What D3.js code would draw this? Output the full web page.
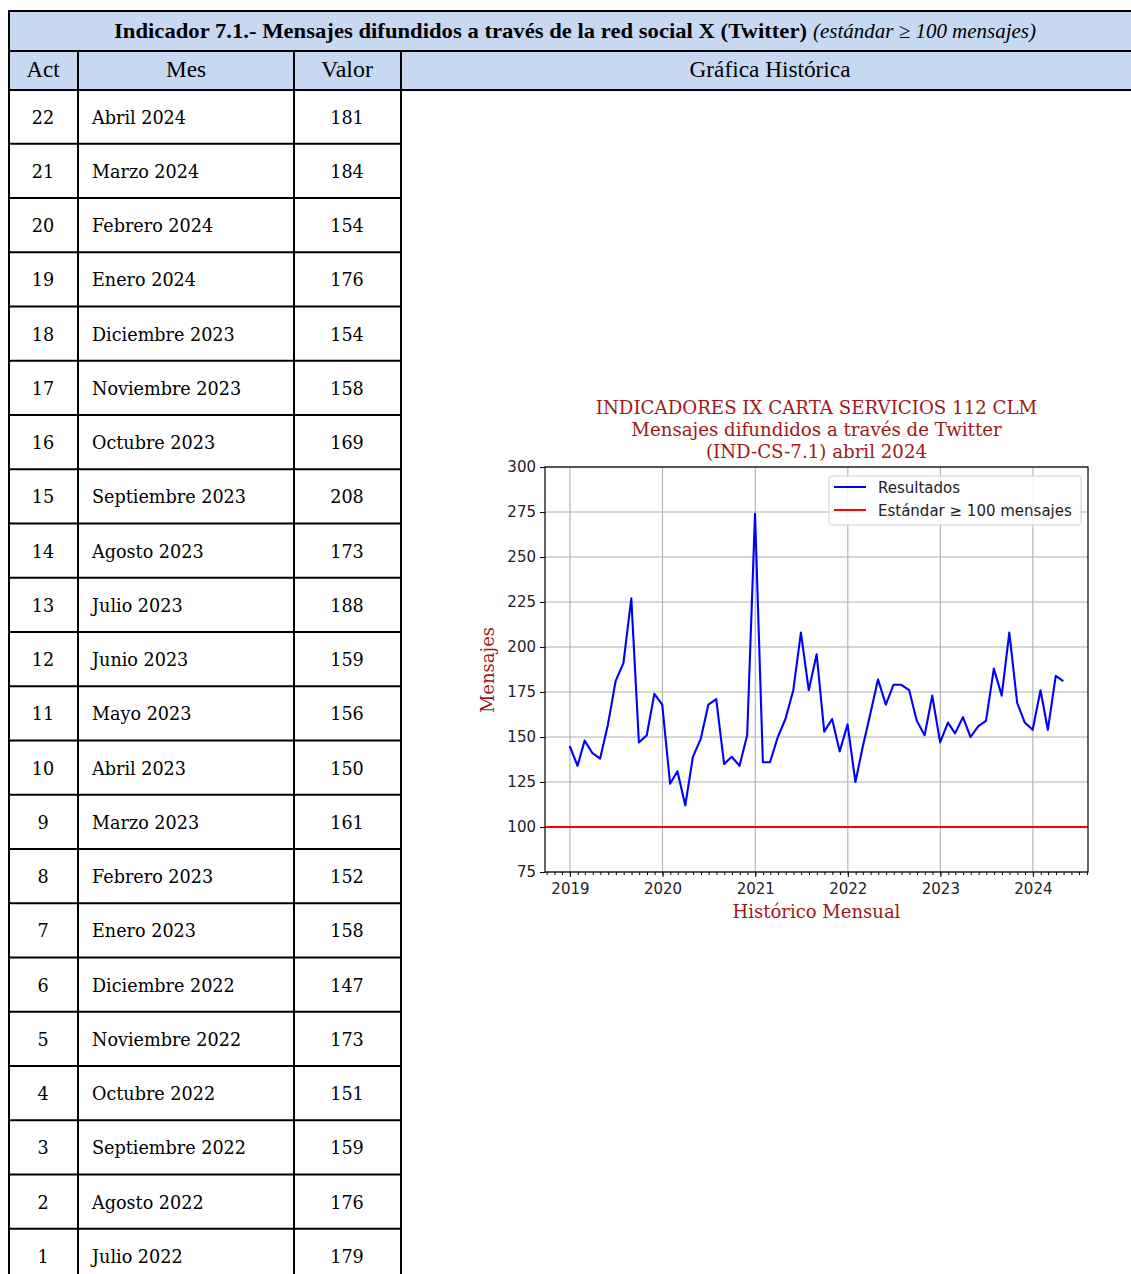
<!DOCTYPE html>
<html>
<head>
<meta charset="utf-8">
<title>Indicador 7.1 - Mensajes X (Twitter)</title>
<script src="https://d3js.org/d3.v7.min.js"></script>
<style>
  body { margin: 0; background: #fff; }
  svg { display: block; }
</style>
</head>
<body>
<div id="page"></div>
<script>
// table data (latest first)
const tableAct = [22, 21, 20, 19, 18, 17, 16, 15, 14, 13, 12, 11, 10, 9, 8, 7, 6, 5, 4, 3, 2, 1];
const tableMonths = ["Abril 2024", "Marzo 2024", "Febrero 2024", "Enero 2024", "Diciembre 2023",
  "Noviembre 2023", "Octubre 2023", "Septiembre 2023", "Agosto 2023", "Julio 2023", "Junio 2023",
  "Mayo 2023", "Abril 2023", "Marzo 2023", "Febrero 2023", "Enero 2023", "Diciembre 2022",
  "Noviembre 2022", "Octubre 2022", "Septiembre 2022", "Agosto 2022", "Julio 2022"];
const tableValues = [181, 184, 154, 176, 154, 158, 169, 208, 173, 188, 159, 156, 150, 161, 152,
  158, 147, 173, 151, 159, 176, 179];

// historic series (monthly)
const histMonths = [
  "2018-12",
  "2019-01", "2019-02", "2019-03", "2019-04", "2019-05", "2019-06", "2019-07", "2019-08", "2019-09", "2019-10", "2019-11", "2019-12",
  "2020-01", "2020-02", "2020-03", "2020-04", "2020-05", "2020-06", "2020-07", "2020-08", "2020-09", "2020-10", "2020-11", "2020-12",
  "2021-01", "2021-02", "2021-03", "2021-04", "2021-05", "2021-06", "2021-07", "2021-08", "2021-09", "2021-10", "2021-11", "2021-12",
  "2022-01", "2022-02", "2022-03", "2022-04", "2022-05", "2022-06", "2022-07", "2022-08", "2022-09", "2022-10", "2022-11", "2022-12",
  "2023-01", "2023-02", "2023-03", "2023-04", "2023-05", "2023-06", "2023-07", "2023-08", "2023-09", "2023-10", "2023-11", "2023-12",
  "2024-01", "2024-02", "2024-03", "2024-04"];
const histValues = [
  145,
  134, 148, 141, 138, 157, 181, 191, 227, 147, 151, 174, 168,
  124, 131, 112, 139, 149, 168, 171, 135, 139, 134, 151, 274,
  136, 136, 150, 160, 176, 208, 176, 196, 153, 160, 142, 157,
  125, 144, 163, 182, 168, 179, 179, 176, 159, 151, 173, 147,
  158, 152, 161, 150, 156, 159, 188, 173, 208, 169, 158, 154,
  176, 154, 184, 181];
const standard = 100;
const yTicks = [75, 100, 125, 150, 175, 200, 225, 250, 275, 300];
const titleLines = ["INDICADORES IX CARTA SERVICIOS 112 CLM",
  "Mensajes difundidos a través de Twitter", "(IND-CS-7.1) abril 2024"];

const W = 1131, H = 1274;
const svg = d3.select("#page").append("svg").attr("width", W).attr("height", H);

// ---------- table ----------
const tLeft = 9, tTop = 11, tRight = 1140;
const colX = [tLeft, 78, 294, 401];
const headBlue = "#c6d9f1";
const serif = "'DejaVu Serif', serif";
const headFont = "'Liberation Serif', serif";

svg.append("rect").attr("x", tLeft).attr("y", tTop).attr("width", tRight - tLeft).attr("height", 79)
  .attr("fill", headBlue);

svg.append("text").attr("x", 114).attr("y", 38)
  .attr("font-family", headFont).attr("font-weight", "bold").attr("font-size", 21)
  .attr("textLength", 693).attr("lengthAdjust", "spacingAndGlyphs")
  .text("Indicador 7.1.- Mensajes difundidos a través de la red social X (Twitter)");
svg.append("text").attr("x", 813).attr("y", 38)
  .attr("font-family", headFont).attr("font-style", "italic").attr("font-size", 21)
  .attr("textLength", 223).attr("lengthAdjust", "spacingAndGlyphs")
  .text("(estándar ≥ 100 mensajes)");

const heads = [["Act", 43, 33], ["Mes", 186, 40], ["Valor", 347, 52], ["Gráfica Histórica", 770, 161]];
svg.selectAll("text.head").data(heads).enter().append("text")
  .attr("class", "head").attr("x", d => d[1] - d[2] / 2).attr("y", 77)
  .attr("font-family", headFont).attr("font-size", 22.5)
  .attr("textLength", d => d[2]).attr("lengthAdjust", "spacingAndGlyphs")
  .text(d => d[0]);

const rowY = d3.scaleBand().domain(tableAct).range([89.5, 89.5 + 22 * 54.25]);

const rows = svg.selectAll("g.row").data(tableAct).enter().append("g")
  .attr("class", "row")
  .attr("transform", d => `translate(0,${rowY(d) + rowY.bandwidth() / 2 + 7})`)
  .attr("font-family", serif).attr("font-size", 17.6).attr("fill", "#000");
rows.append("text").attr("x", 43).attr("text-anchor", "middle").text(d => d);
rows.append("text").attr("x", 92).text((d, i) => tableMonths[i]);
rows.append("text").attr("x", 347).attr("text-anchor", "middle").text((d, i) => tableValues[i]);

const grid = svg.append("g").attr("stroke", "#000").attr("stroke-width", 2);
[tTop, 51, 90].forEach(y => grid.append("line").attr("x1", tLeft).attr("x2", tRight).attr("y1", y).attr("y2", y));
tableAct.slice(1).forEach(a => grid.append("line").attr("x1", tLeft).attr("x2", colX[3])
  .attr("y1", rowY(a)).attr("y2", rowY(a)));
grid.append("line").attr("x1", tLeft).attr("x2", tLeft).attr("y1", tTop - 1).attr("y2", H);
colX.slice(1).forEach(x => grid.append("line").attr("x1", x).attr("x2", x).attr("y1", 51).attr("y2", H));

// ---------- chart ----------
const plot = { left: 545, right: 1088, top: 467, bottom: 872 };
const red = "#a01818";
const sans = "'DejaVu Sans', sans-serif";

const dates = histMonths.map(m => { const [y, mo] = m.split("-").map(Number); return new Date(y, mo, 0); });
const span = dates[dates.length - 1] - dates[0];
const x = d3.scaleTime()
  .domain([new Date(+dates[0] - span * 0.05), new Date(+dates[dates.length - 1] + span * 0.05)])
  .range([plot.left, plot.right]);
const y = d3.scaleLinear().domain([75, 300]).range([plot.bottom, plot.top]);

const chart = svg.append("g");
const yearTicks = x.ticks(d3.timeYear.every(1));

// grid
chart.append("g").selectAll("line").data(yTicks).enter().append("line")
  .attr("x1", plot.left).attr("x2", plot.right).attr("y1", d => y(d)).attr("y2", d => y(d))
  .attr("stroke", "#b0b0b0").attr("stroke-width", 1.1);
chart.append("g").selectAll("line").data(yearTicks).enter().append("line")
  .attr("x1", d => x(d)).attr("x2", d => x(d)).attr("y1", plot.top).attr("y2", plot.bottom)
  .attr("stroke", "#b0b0b0").attr("stroke-width", 1.1);

// axes
const yAxis = chart.append("g").attr("transform", `translate(${plot.left},0)`)
  .call(d3.axisLeft(y).tickValues(yTicks).tickSize(5).tickPadding(4));
const xMinor = chart.append("g").attr("transform", `translate(0,${plot.bottom})`)
  .call(d3.axisBottom(x).ticks(d3.timeMonth.every(1)).tickSize(3).tickFormat(""));
const xAxis = chart.append("g").attr("transform", `translate(0,${plot.bottom})`)
  .call(d3.axisBottom(x).tickValues(yearTicks).tickSize(5).tickPadding(6).tickFormat(d3.timeFormat("%Y")));
[yAxis, xAxis, xMinor].forEach(a => {
  a.select(".domain").remove();
  a.selectAll("line").attr("stroke", "#000").attr("stroke-width", 1);
  a.selectAll("text").attr("font-family", sans).attr("font-size", 15).attr("fill", "#222");
});

// series
chart.append("line").attr("x1", plot.left).attr("x2", plot.right)
  .attr("y1", y(standard)).attr("y2", y(standard))
  .attr("stroke", "#ff0000").attr("stroke-width", 2);
chart.append("path").datum(histValues)
  .attr("fill", "none").attr("stroke", "#0000ff").attr("stroke-width", 2.1)
  .attr("stroke-linejoin", "round")
  .attr("d", d3.line().x((d, i) => x(dates[i])).y(d => y(d)));

// frame
chart.append("rect").attr("x", plot.left).attr("y", plot.top)
  .attr("width", plot.right - plot.left).attr("height", plot.bottom - plot.top)
  .attr("fill", "none").attr("stroke", "#000").attr("stroke-width", 1.2);

// legend
const leg = chart.append("g").attr("transform", "translate(829,476)");
leg.append("rect").attr("width", 252).attr("height", 49).attr("rx", 3)
  .attr("fill", "#fff").attr("fill-opacity", 0.85).attr("stroke", "#d0d0d0");
const legItems = [["Resultados", "#0000ff"], ["Estándar ≥ 100 mensajes", "#ff0000"]];
legItems.forEach((it, i) => {
  leg.append("line").attr("x1", 5).attr("x2", 37).attr("y1", 11 + i * 23).attr("y2", 11 + i * 23)
    .attr("stroke", it[1]).attr("stroke-width", 2);
  leg.append("text").attr("x", 49).attr("y", 17 + i * 23)
    .attr("font-family", sans).attr("font-size", 15).attr("fill", "#222").text(it[0]);
});

// titles and labels
const cx = (plot.left + plot.right) / 2;
chart.selectAll("text.title").data(titleLines).enter().append("text")
  .attr("class", "title").attr("x", cx).attr("y", (d, i) => 414 + i * 22)
  .attr("text-anchor", "middle").attr("font-family", serif).attr("font-size", 18.2)
  .attr("fill", red).text(d => d);
chart.append("text").attr("x", cx).attr("y", 918).attr("text-anchor", "middle")
  .attr("font-family", serif).attr("font-size", 18).attr("fill", red).text("Histórico Mensual");
chart.append("text").attr("transform", `translate(494,670) rotate(-90)`).attr("text-anchor", "middle")
  .attr("font-family", serif).attr("font-size", 18).attr("fill", red).text("Mensajes");
</script>
</body>
</html>
